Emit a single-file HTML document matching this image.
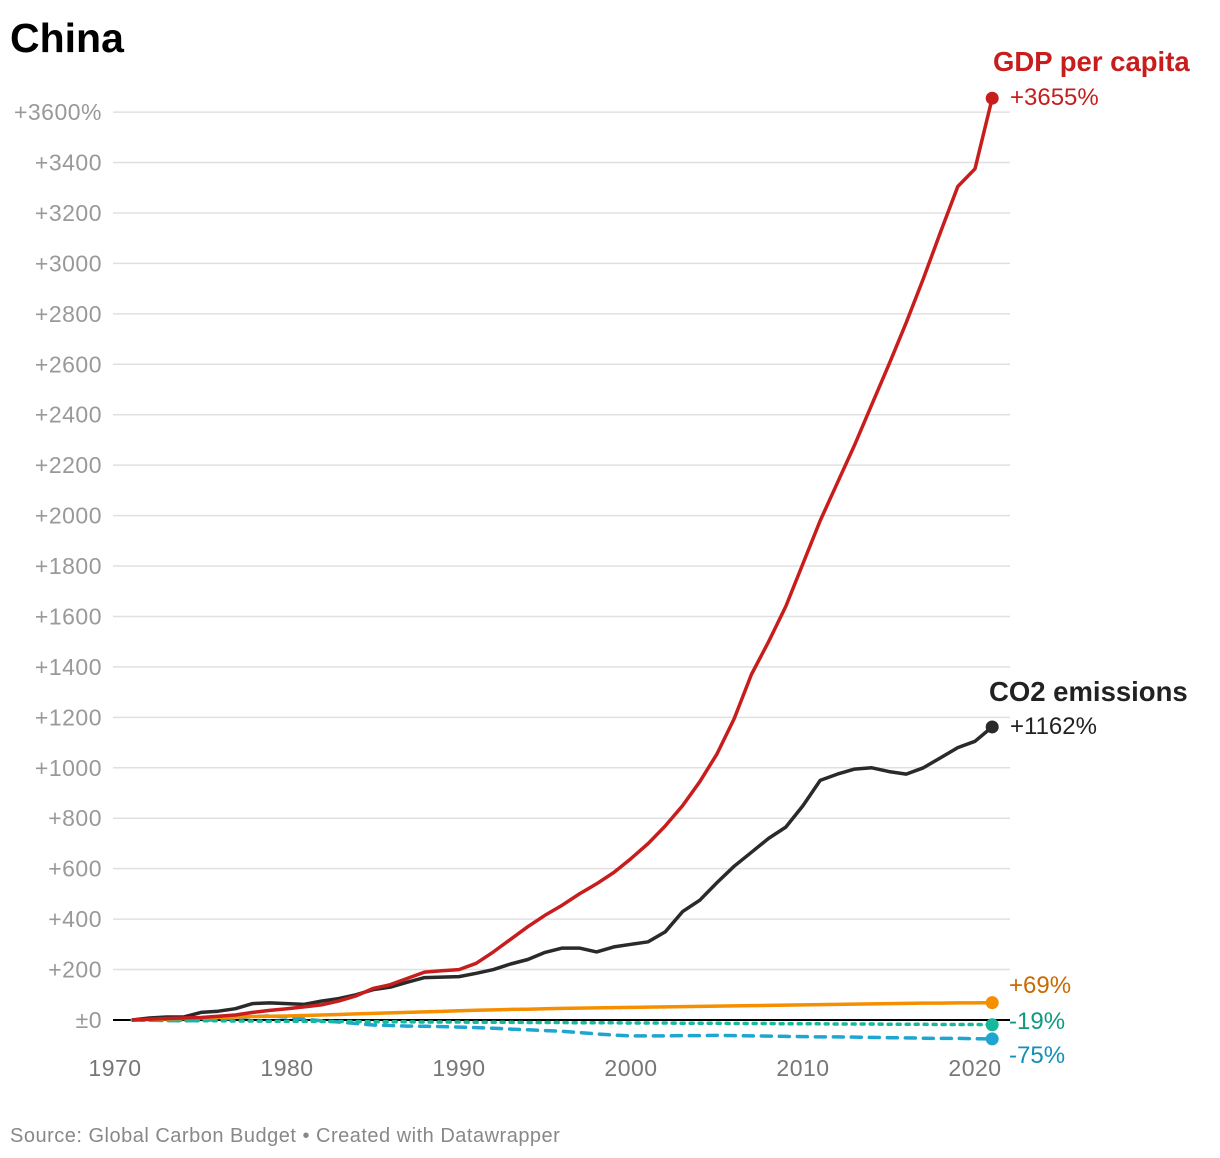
<!DOCTYPE html>
<html><head><meta charset="utf-8"><style>
body{margin:0;background:#fff;font-family:"Liberation Sans",sans-serif;}
svg{display:block}
</style></head><body>
<svg id="chart" width="1220" height="1158" viewBox="0 0 1220 1158">
<text x="10" y="52" font-size="41" font-weight="bold" fill="#000">China</text>
<g id="grid"></g><g id="lines"></g><g id="labels"></g>
<text x="10" y="1142" font-size="20" letter-spacing="0.5" fill="#888">Source: Global Carbon Budget • Created with Datawrapper</text>
</svg>
<script>
const years = [];for(let y=1971;y<=2021;y++)years.push(y);
const yTicks=[0,200,400,600,800,1000,1200,1400,1600,1800,2000,2200,2400,2600,2800,3000,3200,3400,3600];
const xTicks=[1970,1980,1990,2000,2010,2020];
const gdp=[0,3,6,8,10,15,20,30,38,45,52,60,75,95,125,140,165,190,195,200,225,270,320,370,415,455,500,540,585,640,700,770,850,945,1055,1195,1370,1500,1640,1810,1980,2130,2280,2440,2600,2765,2940,3125,3305,3375,3655];
const co2=[0,8,12,12,30,35,45,65,68,65,62,75,85,100,120,130,150,168,170,172,185,200,222,240,268,285,285,270,290,300,310,350,430,475,545,610,665,720,765,850,950,975,995,1000,985,975,1000,1040,1080,1105,1162];
const pop=[0,2,4,6,8,10,12,14,15,16,18,20,22,24,26,28,30,32,34,37,39,40,42,43,45,46,47,48,49,50,51,52,53,54,55,56,57,58,59,60,61,62,63,64,65,66,67,67,68,68,69];
const co2pp=[0,-1,-2,-2,-3,-3,-4,-4,-5,-5,-5,-6,-6,-6,-7,-7,-7,-8,-8,-8,-9,-9,-9,-10,-10,-10,-11,-11,-11,-12,-12,-12,-13,-13,-13,-14,-14,-14,-15,-15,-15,-16,-16,-16,-17,-17,-17,-18,-18,-18,-19];
const co2gdp=[0,-1,-2,-3,-2,2,8,14,16,12,3,-3,-8,-14,-20,-22,-24,-25,-26,-28,-30,-33,-36,-39,-42,-45,-50,-55,-60,-63,-63,-63,-62,-62,-61,-62,-63,-64,-65,-66,-67,-67,-68,-69,-70,-71,-72,-73,-73,-74,-75];
const X=y=>115+(y-1970)*17.2, Y=v=>1020-v*0.2522;
const NS="http://www.w3.org/2000/svg";
function mk(t,a,p){const e=document.createElementNS(NS,t);for(const k in a)e.setAttribute(k,a[k]);p.appendChild(e);return e;}
const grid=document.getElementById('grid'),lines=document.getElementById('lines'),labels=document.getElementById('labels');
yTicks.forEach(v=>{
 const l=mk('line',{x1:113,x2:1010,y1:Y(v),y2:Y(v),stroke:v===0?'#000':'#e0e0e0','stroke-width':v===0?2:1.5},grid);
 
 
 const t=mk('text',{x:102,y:Y(v)+8,'text-anchor':'end','font-size':23,'letter-spacing':0.5,fill:'#999'},grid);
 t.textContent=v===0?'±0':(v===3600?'+3600%':'+'+v);
 
 
});
xTicks.forEach(y=>{
 const t=mk('text',{x:X(y),y:1076,'text-anchor':'middle','font-size':23,'letter-spacing':0.5,fill:'#777'},grid);
 t.textContent=y;
 
 
});
const series=[
 {d:co2gdp,c:'#1ea6d1',dash:'10 8',name:'co2-per-gdp-line'},
 {d:co2pp,c:'#17b89b',dash:'3 6',name:'co2-per-capita-line'},
 {d:pop,c:'#f68f00',dash:'',name:'population-line'},
 {d:co2,c:'#2a2a2a',dash:'',name:'co2-emissions-line'},
 {d:gdp,c:'#c71e1d',dash:'',name:'gdp-per-capita-line'}];
series.forEach(s=>{
 const p=mk('path',{d:s.d.map((v,i)=>(i?'L':'M')+X(years[i]).toFixed(1)+','+Y(v).toFixed(1)).join(''),fill:'none',stroke:s.c,'stroke-width':3.5,'stroke-dasharray':s.dash,'stroke-linecap':s.dash?'round':'butt','stroke-linejoin':'round'},lines);
 
 
 const n=s.d.length-1;
 const c=mk('circle',{cx:X(years[n]),cy:Y(s.d[n]),r:6.5,fill:s.c},lines);
 
 
});
function lab(x,y,txt,col,size,w,name){const t=mk('text',{x:x,y:y,'font-size':size,fill:col,'font-weight':w},labels);t.textContent=txt;
 
 }
lab(993,71,'GDP per capita','#c71e1d',27.5,'bold','gdp-label');
lab(1010,105,'+3655%','#c71e1d',24,'normal','gdp-value');
lab(989,701,'CO2 emissions','#222',27.5,'bold','co2-label');
lab(1010,734,'+1162%','#222',24,'normal','co2-value');
lab(1009,993,'+69%','#c96a00',24,'normal','pop-value');
lab(1009,1029,'-19%','#0f9a80',24,'normal','co2pp-value');
lab(1009,1063,'-75%','#1290b8',24,'normal','co2gdp-value');
</script>
</body></html>
